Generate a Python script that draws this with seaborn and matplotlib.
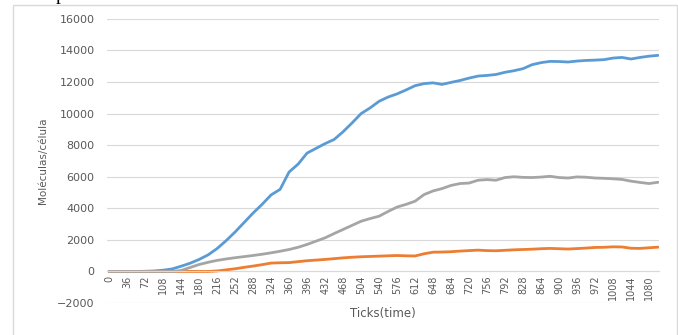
import matplotlib
matplotlib.use("Agg")
import matplotlib.pyplot as plt
from matplotlib.patches import Rectangle
import pandas as pd
import seaborn as sns

# Simulation ticks (sampled every 18 ticks)
ticks = [0, 18, 36, 54, 72, 90, 108, 126, 144, 162, 180, 198, 216, 234, 252, 270,
         288, 306, 324, 342, 360, 378, 396, 414, 432, 450, 468, 486, 504, 522, 540,
         558, 576, 594, 612, 630, 648, 666, 684, 702, 720, 738, 756, 774, 792, 810,
         828, 846, 864, 882, 900, 918, 936, 954, 972, 990, 1008, 1026, 1044, 1062,
         1080, 1098]

serie1 = [0, 0, 0, 0, 10, 30, 80, 160, 330, 520, 760, 1050, 1450, 1950, 2500, 3100,
          3700, 4250, 4850, 5200, 6300, 6800, 7500, 7800, 8100, 8360, 8850, 9410, 10000, 10360, 10780,
          11050, 11250, 11500, 11770, 11900, 11950, 11850, 11980, 12100, 12250, 12380, 12420, 12480, 12620, 12720,
          12850, 13100, 13230, 13310, 13300, 13270, 13330, 13370, 13390, 13420, 13520, 13560, 13460, 13560,
          13640, 13690]

serie2 = [0, 0, 0, 0, 0, 0, 0, 0, 0, 0, 0, 0, 30, 100, 170, 260,
          340, 430, 530, 550, 560, 620, 680, 720, 760, 810, 860, 900, 930, 950, 970,
          990, 1010, 990, 980, 1120, 1220, 1230, 1250, 1290, 1320, 1350, 1320, 1310, 1340, 1370,
          1390, 1410, 1440, 1460, 1440, 1420, 1450, 1480, 1520, 1530, 1560, 1550, 1470, 1460,
          1500, 1540]

serie3 = [0, 0, 0, 0, 0, 0, 0, 0, 60, 250, 440, 580, 700, 790, 870, 940,
          1010, 1090, 1180, 1280, 1390, 1530, 1710, 1920, 2130, 2400, 2660, 2920, 3180, 3350, 3500,
          3800, 4080, 4250, 4450, 4870, 5100, 5250, 5450, 5570, 5600, 5780, 5820, 5780, 5950, 6000,
          5960, 5950, 5980, 6030, 5950, 5920, 5990, 5970, 5920, 5900, 5870, 5830, 5720, 5640,
          5570, 5650]

series_names = ["Serie 1", "Serie 2", "Serie 3"]
series_colors = ["#5B9BD5", "#ED7D31", "#A5A5A5"]
x_tick_values = list(range(0, 1081, 36))
y_tick_values = list(range(-2000, 16001, 2000))

df = pd.concat([
    pd.DataFrame({"tick": ticks, "valor": vals, "serie": name})
    for name, vals in zip(series_names, [serie1, serie2, serie3])
], ignore_index=True)

sns.set_style("white")
plt.rcParams["font.family"] = ["DejaVu Sans"]

fig = plt.figure(figsize=(6.78, 3.35), dpi=100)
ax = fig.add_axes([0.158, 0.0955, 0.814, 0.848])

sns.lineplot(data=df, x="tick", y="valor", hue="serie", hue_order=series_names,
             palette=series_colors, linewidth=2, legend=False, ax=ax)

grid_color = "#D9D9D9"
text_color = "#595959"

# horizontal axis line sits at y = 0
for side in ["left", "right", "top"]:
    ax.spines[side].set_visible(False)
ax.spines["bottom"].set_position(("data", 0))
ax.spines["bottom"].set_color(grid_color)
ax.spines["bottom"].set_linewidth(0.8)

ax.set_xlim(-4, 1100)
ax.set_ylim(-2000, 16000)
ax.set_yticks(y_tick_values)
ax.set_xticks(x_tick_values)
ax.set_xticklabels([str(v) for v in x_tick_values])

ax.set_axisbelow(True)
ax.yaxis.grid(True, color=grid_color, linewidth=0.8)
ax.xaxis.grid(False)

ax.tick_params(axis="x", length=0, pad=3, labelsize=7, labelcolor=text_color,
               labelrotation=90)
ax.tick_params(axis="y", length=0, pad=9, labelsize=8, labelcolor=text_color)
for lbl in ax.get_xticklabels():
    lbl.set_verticalalignment("top")
    lbl.set_horizontalalignment("center")
ax.set_xlabel("")
ax.set_ylabel("")

fig.text(0.565, 0.063, "Ticks(time)", ha="center", va="center",
         fontsize=8.5, color=text_color)
fig.text(0.063, 0.519, "Moléculas/célula", ha="center", va="center",
         rotation=90, fontsize=7.5, color=text_color)

# chart frame
fig.patches.append(Rectangle((13 / 678, -0.05), 664 / 678, 1.05 - 5 / 335,
                             transform=fig.transFigure, fill=False,
                             edgecolor=grid_color, linewidth=1.0))

# tail of the caption line above the chart
fig.text(56 / 678, 1.0, "p", ha="left", va="baseline",
         fontsize=14, family="Liberation Serif", color="black")

fig.savefig("out.png", dpi=100)
